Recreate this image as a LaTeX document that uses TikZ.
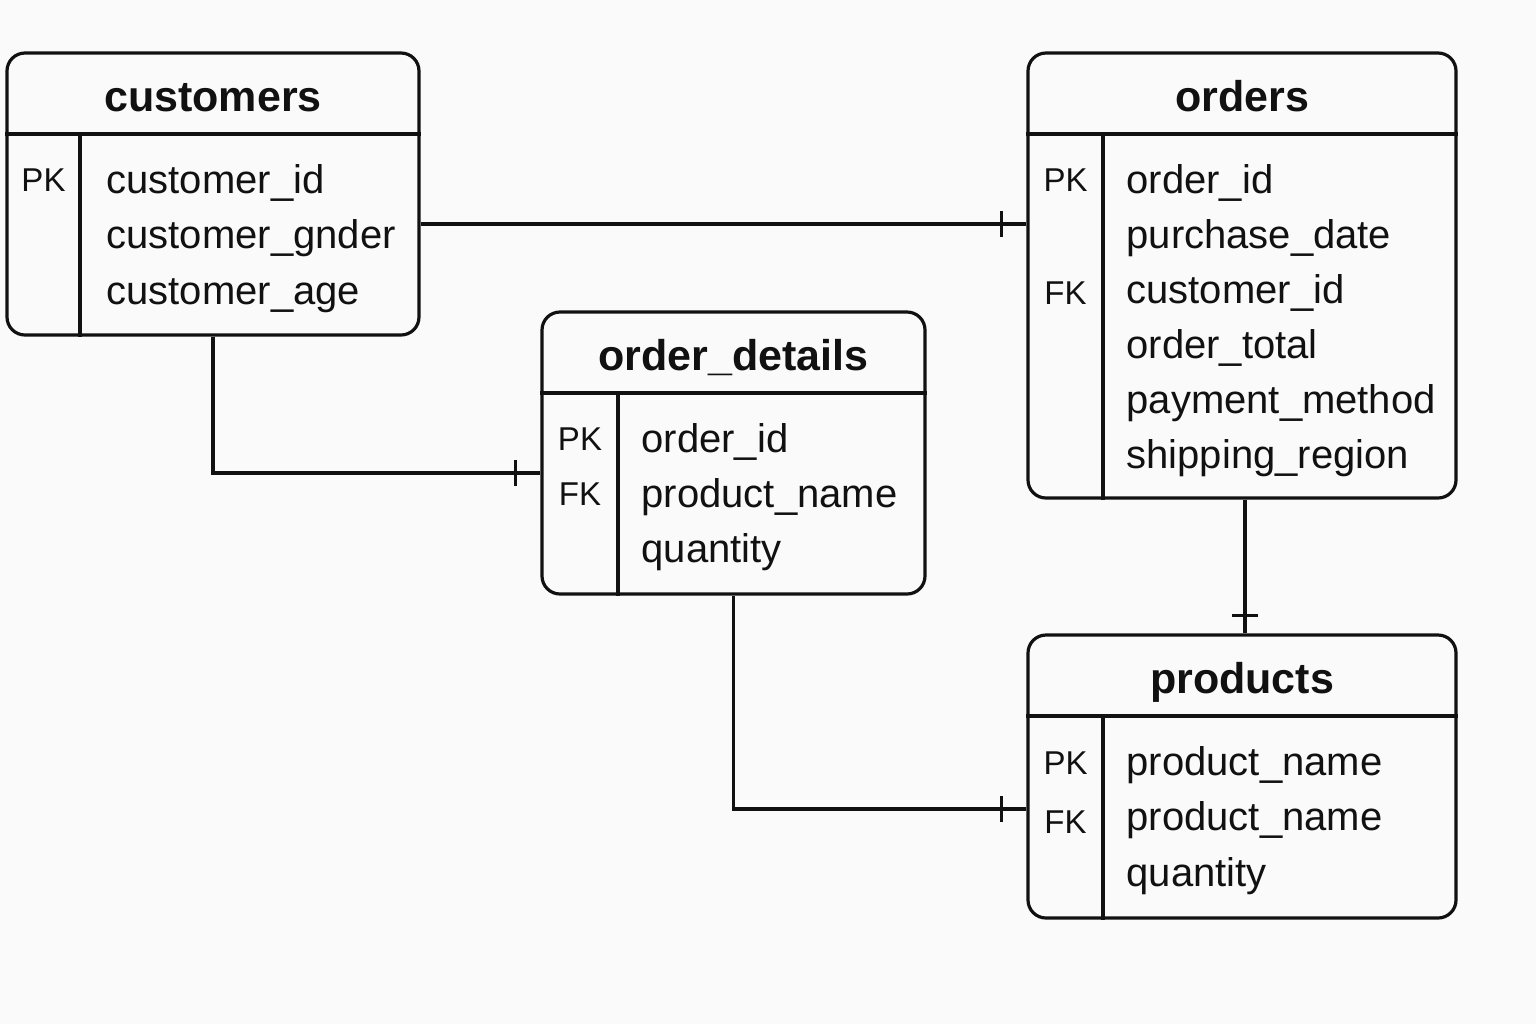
\documentclass[tikz,border=0pt]{standalone}
\usepackage{fontspec}
\setmainfont{Liberation Sans}
\usetikzlibrary{decorations.markings}
\tikzset{>=latex}
\definecolor{paper}{RGB}{250,250,250}
\definecolor{ink}{RGB}{17,17,17}

\begin{document}
\begin{tikzpicture}[x=0.5pt,y=-0.5pt,line width=1.6pt,color=ink,
   entity/.style={draw=ink,rounded corners=9pt,line width=1.6pt,inner sep=0pt},
   head/.style={anchor=base,font=\bfseries\fontsize{21.5}{26}\selectfont},
   field/.style={anchor=base west,inner sep=0pt,font=\fontsize{20}{25}\selectfont},
   keycol/.style={anchor=base,inner sep=0pt,font=\fontsize{16.5}{20}\selectfont},
   onebar/.style={postaction={decorate,decoration={markings,
      mark=at position -#1 with {\draw[line width=1.6pt] (0,-6.5pt) -- (0,6.5pt);}}}},
   onebar/.default=12.5pt,
]
\fill[paper] (0,0) rectangle (1536,1024);
\useasboundingbox (0,0) rectangle (1536,1024);

% customers
\node[entity,minimum width=206pt,minimum height=141pt] (customers) at (213,194) {};
\node[head] (customers-t) at (213,111) {customers};
\node[keycol] (customers-pk) at (43.5,191) {PK};
\foreach \f [count=\i from 0] in {customer\_id,customer\_gnder,customer\_age}
  \node[field] (customers-f\i) at (105,193+55.5*\i) {\f};

% orders
\node[entity,minimum width=214pt,minimum height=222.5pt] (orders) at (1242,275.5) {};
\node[head] (orders-t) at (1242,111) {orders};
\node[keycol] (orders-pk) at (1065.5,191) {PK};
\node[keycol] (orders-fk) at (1065.5,304) {FK};
\foreach \f [count=\i from 0] in {order\_id,purchase\_date,customer\_id,order\_total,payment\_method,shipping\_region}
  \node[field] (orders-f\i) at (1125,193+55*\i) {\f};

% order_details
\node[entity,minimum width=191.5pt,minimum height=141pt] (details) at (733.5,453) {};
\node[head] (details-t) at (733.5,370) {order\_details};
\node[keycol] (details-pk) at (580,450) {PK};
\node[keycol] (details-fk) at (580,505) {FK};
\foreach \f [count=\i from 0] in {order\_id,product\_name,quantity}
  \node[field] (details-f\i) at (640,452+55*\i) {\f};

% products
\node[entity,minimum width=214pt,minimum height=141.5pt] (products) at (1242,776.5) {};
\node[head] (products-t) at (1242,693) {products};
\node[keycol] (products-pk) at (1065.5,774) {PK};
\node[keycol] (products-fk) at (1065.5,833) {FK};
\foreach \f [count=\i from 0] in {product\_name,product\_name,quantity}
  \node[field] (products-f\i) at (1125,775+55.5*\i) {\f};

% header lines and key columns
\foreach \t/\k/\h in {customers/80/134,orders/1103/134,details/618/393,products/1103/716}
{
  \draw (\t.west |- 0,\h) -- (\t.east |- 0,\h);
  \draw (\k,\h) -- (\t.south -| \k,0);
}

% relations
\draw[onebar] (customers.east |- 0,224) -- (orders.west |- 0,224);
\draw[onebar] (customers.south) |- (details.west |- 0,473);
\draw[onebar=9pt] (orders.south -| 1245,0) -- (products.north -| 1245,0);
\draw[onebar] (details.south) |- (products.west |- 0,809);
\end{tikzpicture}
\end{document}
